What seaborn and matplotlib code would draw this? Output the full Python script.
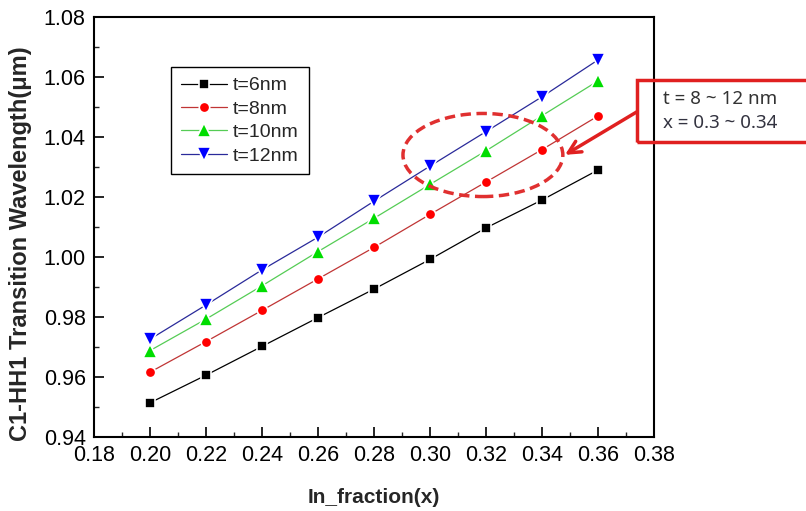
import matplotlib
matplotlib.use("Agg")
import matplotlib.pyplot as plt
import seaborn as sns
import pandas as pd
from matplotlib.patches import Ellipse, Rectangle
from matplotlib.ticker import MultipleLocator, FormatStrFormatter

# ---- data ----
x_frac = [0.20, 0.22, 0.24, 0.26, 0.28, 0.30, 0.32, 0.34, 0.36]
wl_6nm = [0.9514, 0.9606, 0.9702, 0.9798, 0.9893, 0.9992, 1.0097, 1.0190, 1.0290]
wl_8nm = [0.9616, 0.9718, 0.9822, 0.9927, 1.0032, 1.0142, 1.0250, 1.0358, 1.0470]
wl_10nm = [0.9688, 0.9793, 0.9904, 1.0018, 1.0129, 1.0242, 1.0354, 1.0471, 1.0587]
wl_12nm = [0.9726, 0.9840, 0.9957, 1.0066, 1.0186, 1.0303, 1.0418, 1.0534, 1.0657]
series_labels = ["t=6nm", "t=8nm", "t=10nm", "t=12nm"]
x_ticks = [0.18, 0.20, 0.22, 0.24, 0.26, 0.28, 0.30, 0.32, 0.34, 0.36, 0.38]
y_ticks = [0.94, 0.96, 0.98, 1.00, 1.02, 1.04, 1.06, 1.08]
note_lines = ["t = 8 ~ 12 nm", "x = 0.3 ~ 0.34"]

sns.set_theme(style="white")
plt.rcParams['font.family'] = ['Liberation Sans', 'DejaVu Sans']

fig = plt.figure(figsize=(8.06, 5.11), dpi=100)
ax = fig.add_axes([0.1166, 0.1448, 0.6948, 0.8219])

styles = [
    dict(color="black", marker="s", mfc="black", ms=7.0),
    dict(color="#c03535", marker="o", mfc="#ff0000", ms=7.5),
    dict(color="#55cc55", marker="^", mfc="#00dd00", ms=9.5),
    dict(color="#2a2a9a", marker="v", mfc="#0000ff", ms=9.5),
]
all_series = [wl_6nm, wl_8nm, wl_10nm, wl_12nm]

for vals, lab, st in zip(all_series, series_labels, styles):
    df = pd.DataFrame({"x": x_frac, "y": vals})
    sns.lineplot(data=df, x="x", y="y", ax=ax, color=st["color"], marker=st["marker"],
                 markerfacecolor=st["mfc"], markeredgecolor="white", markeredgewidth=1.2,
                 markersize=st["ms"], linewidth=0.9, label=lab, legend=False)

ax.set_xlim(0.18, 0.38)
ax.set_ylim(0.94, 1.08)
ax.set_xticks(x_ticks)
ax.set_yticks(y_ticks)
ax.xaxis.set_major_formatter(FormatStrFormatter("%.2f"))
ax.yaxis.set_major_formatter(FormatStrFormatter("%.2f"))
ax.xaxis.set_minor_locator(MultipleLocator(0.01))
ax.yaxis.set_minor_locator(MultipleLocator(0.01))
ax.tick_params(which="major", direction="in", length=7, width=1.2, labelsize=15.5,
               left=True, bottom=True, top=False, right=False, pad=6, colors="black")
ax.tick_params(which="minor", direction="in", length=3.5, width=1.0,
               left=True, bottom=True, top=False, right=False)
for sp in ax.spines.values():
    sp.set_color("black")
    sp.set_linewidth(1.5)

ax.set_xlabel("In_fraction(x)", fontsize=15, fontweight="bold")
ax.set_ylabel("C1-HH1 Transition Wavelength(\u03bcm)", fontsize=17, fontweight="bold")
ax.xaxis.set_label_coords(0.5, -0.121)
ax.yaxis.set_label_coords(-0.111, 0.46)

leg = ax.legend(loc="upper left", bbox_to_anchor=(0.1375, 0.881), fontsize=14,
                frameon=True, fancybox=False, edgecolor="black", framealpha=1,
                handlelength=2.4, labelspacing=0.3, borderpad=0.5, handletextpad=0.3,
                borderaxespad=0)
leg.get_frame().set_linewidth(1.0)

# dashed ellipse highlighting region
ell = Ellipse((0.3189, 1.034), 0.0571, 0.0277, fill=False, edgecolor="#e03030",
              linewidth=2.5, linestyle=(0, (3.0, 1.6)), zorder=5)
ax.add_patch(ell)

# annotation box (extends past figure edge)
rect = Rectangle((0.790, 0.722), 0.25, 0.1214, transform=fig.transFigure, fill=False,
                 edgecolor="#e02020", linewidth=2.5, clip_on=False)
fig.add_artist(rect)
fig.text(0.8226, 0.806, note_lines[0], va="center", ha="left", fontsize=13.5,
         color="#333333", family=["Noto Sans", "DejaVu Sans"])
fig.text(0.8226, 0.760, note_lines[1], va="center", ha="left", fontsize=13.5,
         color="#333340", family=["Noto Sans", "DejaVu Sans"])
ax.annotate("", xy=(0.701, 0.697), xycoords="figure fraction",
            xytext=(0.790, 0.781), textcoords="figure fraction",
            arrowprops=dict(arrowstyle="->", color="#e02020", lw=2.5,
                            mutation_scale=22, shrinkA=0, shrinkB=0))

fig.savefig("out.png", dpi=100)
